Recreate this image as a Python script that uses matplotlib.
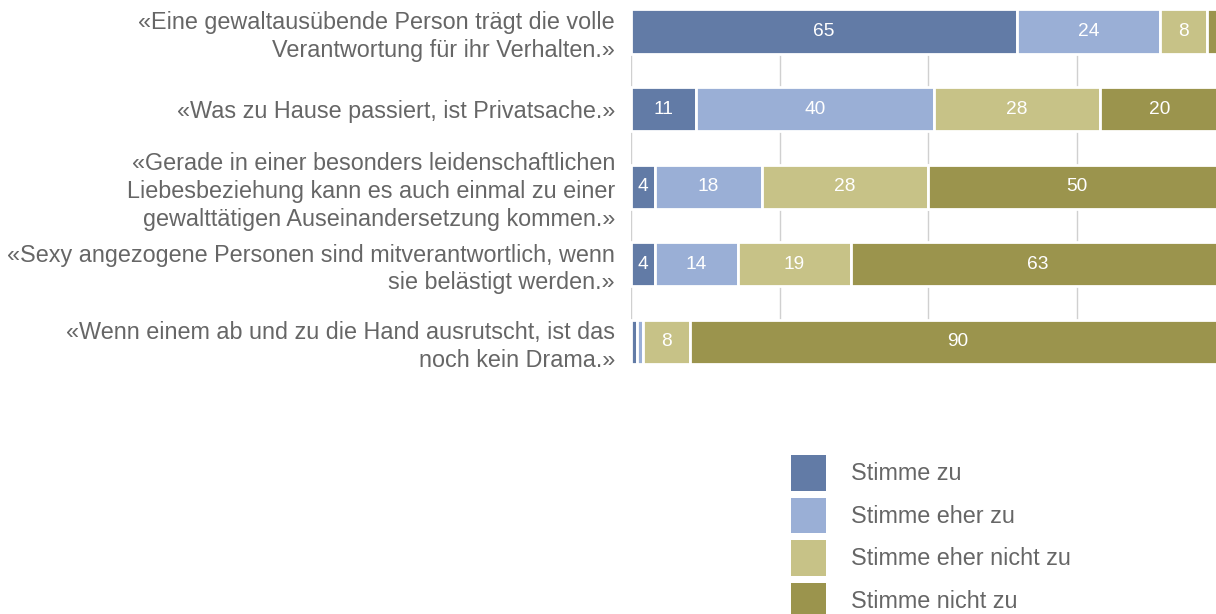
import matplotlib

matplotlib.use("Agg")
import matplotlib.pyplot as plt
from matplotlib.patches import Patch
import numpy as np

plt.rcParams["font.family"] = ["Liberation Sans", "DejaVu Sans"]

statements = [
    "«Eine gewaltausübende Person trägt die volle\nVerantwortung für ihr Verhalten.»",
    "«Was zu Hause passiert, ist Privatsache.»",
    "«Gerade in einer besonders leidenschaftlichen\nLiebesbeziehung kann es auch einmal zu einer\ngewalttätigen Auseinandersetzung kommen.»",
    "«Sexy angezogene Personen sind mitverantwortlich, wenn\nsie belästigt werden.»",
    "«Wenn einem ab und zu die Hand ausrutscht, ist das\nnoch kein Drama.»",
]
series_names = ["Stimme zu", "Stimme eher zu", "Stimme eher nicht zu", "Stimme nicht zu"]
stimme_zu = [65, 11, 4, 4, 1]
eher_zu = [24, 40, 18, 14, 1]
eher_nicht_zu = [8, 28, 28, 19, 8]
nicht_zu = [3, 20, 50, 63, 90]
colors = ["#627ba6", "#9aafd6", "#c7c287", "#9b944d"]
gray = "#666666"
fs = 16.8

fig = plt.figure(figsize=(12.16, 6.14), dpi=100)
ax = fig.add_axes([631 / 1216, 1 - 364 / 614, 594 / 1216, 354.6 / 614])

y = np.arange(len(statements))
left = np.zeros(len(statements))
for vals, name, col in zip([stimme_zu, eher_zu, eher_nicht_zu, nicht_zu], series_names, colors):
    vals = np.array(vals, dtype=float)
    bars = ax.barh(y, vals, left=left, height=0.57, color=col,
                   edgecolor="white", linewidth=2, zorder=3)
    for rect, v in zip(bars, vals):
        if v >= 4:
            ax.text(rect.get_x() + rect.get_width() / 2, rect.get_y() + rect.get_height() / 2,
                    f"{v:.0f}", ha="center", va="center", color="white", fontsize=13.8, zorder=4)
    left += vals

ax.set_xlim(0, 100)
ax.set_ylim(4.285, -0.285)
ax.set_xticks([0, 25, 50, 75])
ax.xaxis.grid(True, color="#d0d0d0", linewidth=1, zorder=0)
ax.tick_params(axis="x", length=0, labelbottom=False)
ax.set_yticks(y)
ax.set_yticklabels(statements, fontsize=fs, color=gray, linespacing=1.26)
ax.tick_params(axis="y", length=0, pad=11.5)
for s in ax.spines.values():
    s.set_visible(False)

handles = [Patch(facecolor=c, edgecolor="none") for c in colors]
fig.legend(handles, series_names, loc="upper left", bbox_to_anchor=(791 / 1216, 1 - 455 / 614),
           frameon=False, fontsize=fs, labelcolor=gray, handlelength=1.52, handleheight=1.97,
           handletextpad=1.07, labelspacing=0.3, borderpad=0, borderaxespad=0)

fig.savefig("out.png", dpi=100)
